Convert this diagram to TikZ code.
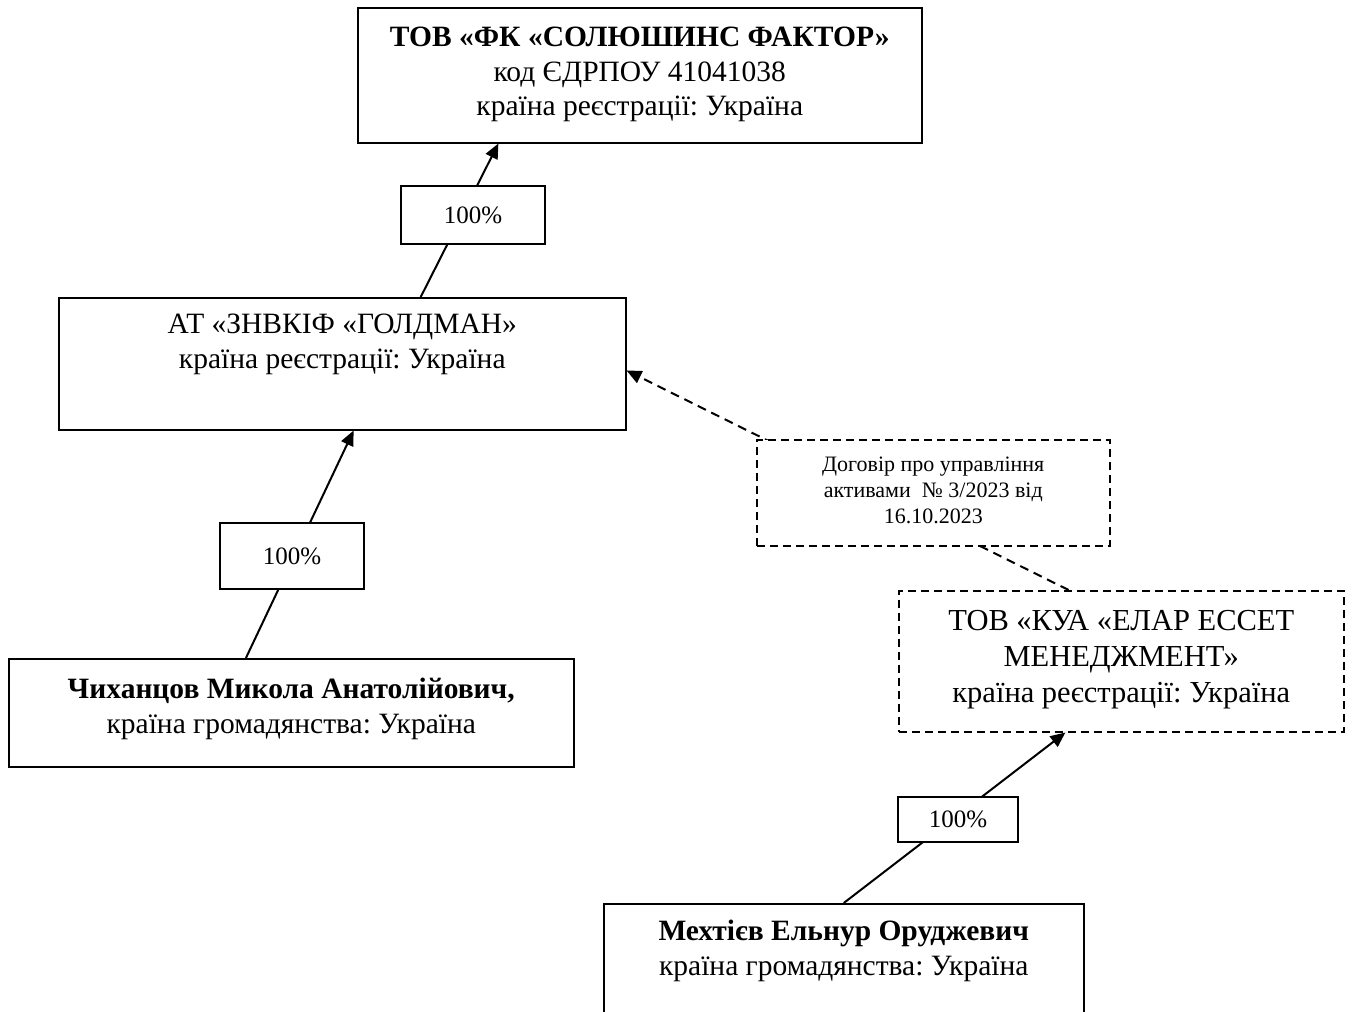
\documentclass[tikz,border=0pt]{standalone}
\usepackage{fontspec}
\setmainfont{Liberation Serif}
\frenchspacing
\usetikzlibrary{arrows.meta,calc}
\begin{document}
\begin{tikzpicture}[x=1pt,y=-1pt,
  box/.style={draw, line width=1.5pt, rectangle, anchor=north west, inner sep=0pt},
  dbox/.style={box, dash pattern=on 8pt off 5pt},
  pct/.style={draw, line width=1.5pt, fill=white, inner sep=0pt, font=\fontsize{25}{30}\selectfont},
  txt/.style={align=center, inner sep=0pt, anchor=north, font=\fontsize{29.5}{34.5}\selectfont},
  smalltxt/.style={txt, font=\fontsize{22}{26}\selectfont},
  kuatxt/.style={txt, font=\fontsize{30.5}{36}\selectfont},
  link/.style={line width=2pt, -{Triangle[length=15pt,width=13pt]}},
  dlink/.style={link, dash pattern=on 9pt off 6pt}
]
\clip (0,0) rectangle (1353,1012);
\fill[white] (0,0) rectangle (1353,1012);

\node[box, minimum width=564pt, minimum height=135pt,
  label={[txt,yshift=-20pt]north:{\textbf{ТОВ «ФК «СОЛЮШИНС ФАКТОР»}\\код ЄДРПОУ 41041038\\країна реєстрації: Україна}}] (fk) at (357,7) {};

\node[box, minimum width=567pt, minimum height=132pt,
  label={[txt,yshift=-17pt]north:{АТ «ЗНВКІФ «ГОЛДМАН»\\країна реєстрації: Україна}}] (gold) at (58,297) {};

\node[box, minimum width=565pt, minimum height=108pt,
  label={[txt,yshift=-20pt]north:{\textbf{Чиханцов Микола Анатолійович,}\\країна громадянства: Україна}}] (chyk) at (8,658) {};

\node[dbox, minimum width=445pt, minimum height=141pt,
  label={[kuatxt,yshift=-20pt]north:{ТОВ «КУА «ЕЛАР ЕССЕТ\\МЕНЕДЖМЕНТ»\\країна реєстрації: Україна}}] (kua) at (898,590) {};

\node[box, minimum width=480pt, minimum height=140pt,
  label={[txt,yshift=-17pt]north:{\textbf{Мехтієв Ельнур Оруджевич}\\країна громадянства: Україна}}] (mekh) at (603,903) {};

\draw[link] ($(gold.north west)!0.638!(gold.north east)$) -- ($(fk.south west)!0.25!(fk.south east)$);
\draw[link] ($(chyk.north west)!0.42!(chyk.north east)$) -- ($(gold.south west)!0.52!(gold.south east)$);
\draw[link] (mekh.north) -- ($(kua.south west)!0.375!(kua.south east)$);
\draw[dlink] ($(kua.north west)!0.382!(kua.north east)$) -- ($(gold.north east)!0.55!(gold.south east)$);

\node[pct, minimum width=144pt, minimum height=58pt] (p1) at (473,215) {100\%};
\node[pct, minimum width=144pt, minimum height=66pt] (p2) at (292,556) {100\%};
\node[pct, minimum width=120pt, minimum height=45pt] (p3) at (958,819.5) {100\%};

\node[dbox, fill=white, minimum width=353pt, minimum height=106pt,
  label={[smalltxt,yshift=-18pt]north:{Договір про управління\\активами\ \ № 3/2023 від\\16.10.2023}}] (dog) at (756,439) {};
\end{tikzpicture}
\end{document}
